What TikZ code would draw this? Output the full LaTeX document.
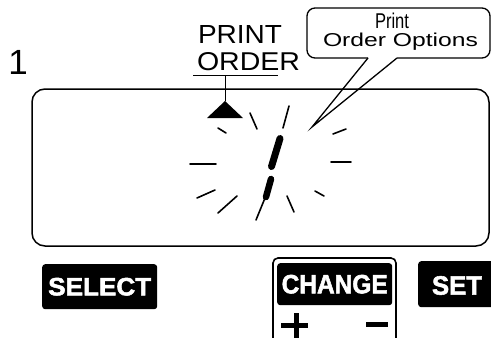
\documentclass[tikz,border=0pt]{standalone}
\usepackage{fontspec}
\usepackage{graphicx}
\setmainfont{Liberation Sans}
\newfontfamily\heavyfont[FakeBold=2]{Liberation Sans Bold}
\tikzset{
  txt/.style={inner sep=0pt, outer sep=0pt, anchor=base west},
  tick/.style={line width=1.6pt, line cap=round},
  seg/.style={line width=7pt, line cap=round},
  btn/.style={fill=black, rounded corners=3pt, inner sep=0pt, anchor=north west},
  btntext/.style={inner sep=0pt, text=white, font=\heavyfont},
  frame/.style={line width=1.5pt, rounded corners=13pt},
}
\begin{document}
\begin{tikzpicture}[x=1pt,y=-1pt]
\useasboundingbox (0,0) rectangle (491,338);
\clip (0,0) rectangle (491,338);
% step number
\node[inner sep=0pt, font=\fontsize{35}{35}\selectfont] (num) at (18,62.5) {1};
% display frame
\draw[frame] (32,89) rectangle (489,246);
\node[inner sep=0pt] (display) at (260,167) {};
% PRINT ORDER label
\node[txt] (print) at (198,43) {\resizebox{84pt}{18pt}{PRINT}};
\node[txt] (order) at (197,70) {\resizebox{103pt}{18pt}{ORDER}};
\coordinate (ulL) at (193,75);
\coordinate (ulR) at (278,75);
\coordinate (ulM) at (225,75);
\draw[line width=0.9pt] (ulL) -- (ulR);
\coordinate (apex) at (225,101);
\draw[line width=0.9pt] (ulM) -- (apex);
\fill (apex) -- (207,118) -- (243,118) -- cycle;
% callout
\draw[line width=1.3pt, rounded corners=8pt] (368,58) -- (307,58) -- (307,8) -- (490,8) -- (490,58) -- (397,58);
\coordinate (tailA) at (368,58);
\coordinate (tailB) at (397,58);
\coordinate (tip) at (312,127);
\draw[line width=1.3pt] (tailA) -- (tip) -- (tailB);
\node[txt] (cprint) at (375,28) {\resizebox{34pt}{15.5pt}{Print}};
\node[txt] (copts) at (323,46.5) {\resizebox{155pt}{13.5pt}{Order Options}};
% blinking ticks
\draw[tick] (250,113) -- (257,129);
\draw[tick] (289,106) -- (283,128);
\draw[tick] (218,128) -- (226,133);
\draw[tick] (333,134) -- (346,129);
\draw[tick] (190,164) -- (216,164);
\draw[tick] (331,162) -- (351,162);
\draw[tick] (197,198) -- (215,190);
\draw[tick] (218,213) -- (237,196);
\draw[tick] (287,196) -- (294,212);
\draw[tick] (315,191) -- (324,196);
\draw[tick] (256,220) -- (265,198);
% slash digit segments
\draw[seg] (280,138.5) -- (271.5,166.5);
\draw[seg, line width=6.5pt] (271,179) -- (266,197);
% buttons
\node[btn, minimum width=115pt, minimum height=45pt] (select) at (42,264) {};
\node[btntext] at (select.center) {\resizebox{103pt}{17.5pt}{SELECT}};
\draw[line width=1.6pt, rounded corners=5pt] (273,258) rectangle (396,350);
\node[btn, minimum width=115pt, minimum height=42pt] (change) at (277,263) {};
\node[btntext] at (change.center) {\resizebox{106pt}{18.5pt}{CHANGE}};
\node[btn, minimum width=80pt, minimum height=46pt] (set) at (418,261) {};
\node[btntext, anchor=center] at (457,285.5) {\resizebox{50pt}{18.5pt}{SET}};
% plus and minus
\draw[line width=5pt] (281,325.5) -- (308,325.5);
\draw[line width=5pt] (296,313) -- (296,340);
\draw[line width=5pt] (366,324.5) -- (388,324.5);
\end{tikzpicture}
\end{document}
